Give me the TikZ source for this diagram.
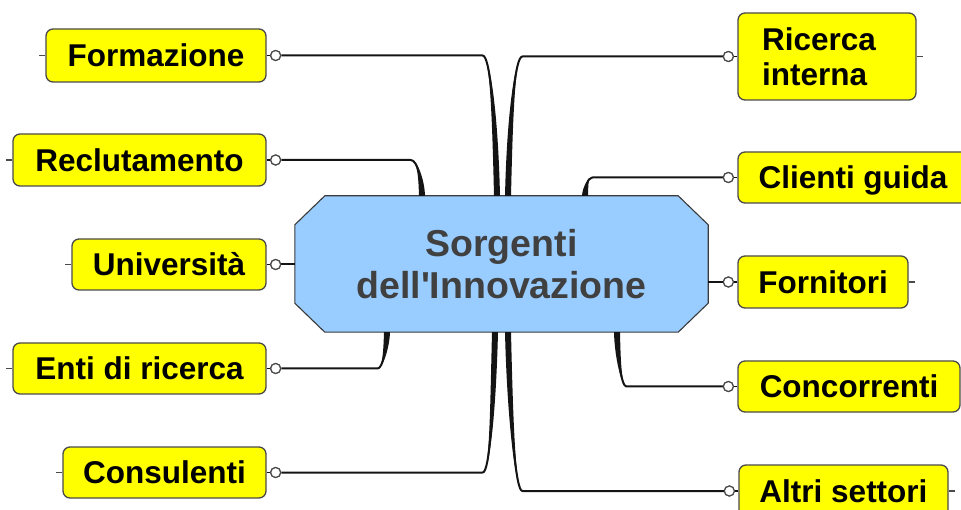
\documentclass[tikz,border=0pt]{standalone}
\usepackage{fontspec}
\setmainfont{Liberation Sans}
\usetikzlibrary{calc,backgrounds}
\definecolor{leafyellow}{HTML}{FFFF00}
\definecolor{leafborder}{HTML}{4A4A4A}
\definecolor{centrefill}{HTML}{99CCFF}
\definecolor{centreborder}{HTML}{3A3A3A}
\definecolor{centretext}{HTML}{404040}
\definecolor{connline}{HTML}{141414}
\tikzset{
  leaf/.style={draw=leafborder, line width=1.3pt, fill=leafyellow, rounded corners=7pt,
    inner sep=0pt, text=black, font=\fontsize{31.5}{35}\selectfont\bfseries,
    text height=22.5pt, text depth=0pt},
  knob/.style={circle, draw=leafborder, fill=white, line width=1.2pt, inner sep=0pt, minimum size=10pt},
  conn/.style={draw=connline, line width=2pt, line join=round},
  brfill/.style={fill=connline},
  centre/.style={inner sep=0pt, minimum width=413pt, minimum height=136pt, align=center,
    text=centretext, font=\fontsize{37.5}{42}\selectfont\bfseries}
}
\newcommand\branch[6]{%
  \fill[brfill] (#2) .. controls +(#4,0) and +(#5,#6) .. ($(#3)+(-3,0)$)
     -- ($(#3)+(3,0)$) .. controls +(#5,#6) and +(#4,0) .. (#2) -- cycle;
  \draw[conn] (#1) -- (#2) .. controls +(#4,0) and +(#5,#6) .. (#3);
}
\begin{document}
\begin{tikzpicture}[x=1pt,y=-1pt]
\useasboundingbox (0,0) rectangle (961,510);
\clip (0,0) rectangle (961,510);
% centre
\node[centre] (c) at (501.5,264) {Sorgenti\\dell\textquotesingle Innovazione};
\begin{scope}[on background layer]
\draw[draw=centreborder, line width=1.1pt, fill=centrefill]
  ($(c.north west)+(30,0)$) -- ($(c.north east)+(-30,0)$) -- ($(c.north east)+(0,29)$)
  -- ($(c.south east)+(0,-29)$) -- ($(c.south east)+(-30,0)$) -- ($(c.south west)+(30,0)$)
  -- ($(c.south west)+(0,-29)$) -- ($(c.north west)+(0,29)$) -- cycle;
\end{scope}
% left leaves
\node[leaf, minimum width=220pt, minimum height=53pt] (nF) at (156,55.5) {Formazione};
\node[leaf, minimum width=253pt, minimum height=52pt] (nR) at (139.5,160) {Reclutamento};
\node[leaf, minimum width=194pt, minimum height=51pt] (nU) at (169,264.5) {Università};
\node[leaf, minimum width=253pt, minimum height=51pt] (nE) at (139.5,368.5) {Enti di ricerca};
\node[leaf, minimum width=203pt, minimum height=51pt] (nC) at (164.5,472.5) {Consulenti};
% right leaves
\node[leaf, minimum width=178pt, minimum height=87pt, text width=130pt, align=left,
      text height=22.5pt, text depth=35pt] (nRI) at (827,56.5) {Ricerca\\interna};
\node[leaf, minimum width=230pt, minimum height=51pt] (nCG) at (853,177.5) {Clienti guida};
\node[leaf, minimum width=170pt, minimum height=52pt] (nFo) at (823,282) {Fornitori};
\node[leaf, minimum width=222pt, minimum height=51pt] (nCo) at (849,386.5) {Concorrenti};
\node[leaf, minimum width=209pt, minimum height=52pt] (nAS) at (843.5,491) {Altri settori};
% knobs
\foreach \n in {F,R,U,E,C}{
  \node[knob] (o\n) at ($(n\n.east)+(9,0)$) {};
  \draw[conn, line width=1.5pt] (n\n) -- (o\n);
  \draw[draw=leafborder, line width=1.3pt] (n\n.west) -- +(-6,0);
}
\foreach \n in {RI,CG,Fo,Co,AS}{
  \node[knob] (o\n) at ($(n\n.west)+(-9,0)$) {};
  \draw[conn, line width=1.5pt] (n\n) -- (o\n);
  \draw[draw=leafborder, line width=1.3pt] (n\n.east) -- +(6,0);
}
% branch corners and bases
\coordinate (kF) at ($(oF)+(207,0)$);   \coordinate (bF) at ($(c.north)+(-4.5,0)$);
\coordinate (kRI) at ($(oRI)+(-206,0)$); \coordinate (bRI) at ($(c.north)+(6.5,0)$);
\coordinate (kR) at ($(oR)+(135,0)$);   \coordinate (bR) at ($(c.north)+(-79.5,0)$);
\coordinate (kCG) at ($(oCG)+(-136,0)$); \coordinate (bCG) at ($(c.north)+(83.5,0)$);
\coordinate (kE) at ($(oE)+(102,0)$);   \coordinate (bE) at ($(c.south)+(-114.5,0)$);
\coordinate (kCo) at ($(oCo)+(-102,0)$); \coordinate (bCo) at ($(c.south)+(115.5,0)$);
\coordinate (kC) at ($(oC)+(207,0)$);   \coordinate (bC) at ($(c.south)+(-6.5,0)$);
\coordinate (kAS) at ($(oAS)+(-207,0)$); \coordinate (bAS) at ($(c.south)+(6.5,0)$);
\branch{oF}{kF}{bF}{7}{-2}{-86}
\branch{oRI}{kRI}{bRI}{-7}{2}{-86}
\branch{oR}{kR}{bR}{7}{-0.5}{-16}
\branch{oCG}{kCG}{bCG}{-5}{0.5}{-8}
\branch{oE}{kE}{bE}{5}{-0.5}{16}
\branch{oCo}{kCo}{bCo}{-5}{0.5}{24}
\branch{oC}{kC}{bC}{7}{-2}{80}
\branch{oAS}{kAS}{bAS}{-7}{2}{85}
\draw[conn] (oU) -- (oU -| c.west);
\draw[conn] (oFo) -- (oFo -| c.east);
% redraw knobs on top
\foreach \n in {F,R,U,E,C,RI,CG,Fo,Co,AS}{ \node[knob] at (o\n) {}; }
\end{tikzpicture}
\end{document}
